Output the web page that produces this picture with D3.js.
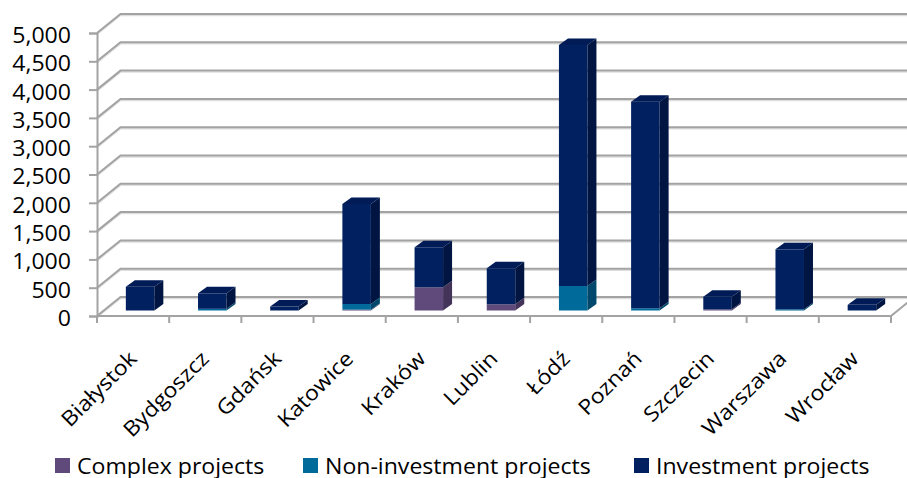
<!DOCTYPE html>
<html>
<head>
<meta charset="utf-8">
<script src="https://cdn.jsdelivr.net/npm/d3@7/dist/d3.min.js"></script>
<style>
  html, body { margin: 0; padding: 0; background: #fff; }
  svg { display: block; font-family: "Open Sans", "Noto Sans", sans-serif; }
</style>
</head>
<body>
<svg id="chart" width="907" height="478"></svg>
<script>
// Cities and project counts per type (stacked bottom → top)
const categories = ["Białystok", "Bydgoszcz", "Gdańsk", "Katowice", "Kraków", "Lublin", "Łódź", "Poznań", "Szczecin", "Warszawa", "Wrocław"];
const complexProjects       = [0, 0, 0, 15, 410, 110, 0, 0, 20, 0, 0];
const nonInvestmentProjects = [0, 30, 0, 100, 0, 0, 433, 40, 0, 20, 0];
const investmentProjects    = [420, 274, 70, 1767, 707, 636, 4258, 3650, 224, 1061, 100];
const seriesNames = ["Complex projects", "Non-investment projects", "Investment projects"];
const yTicks = [0, 500, 1000, 1500, 2000, 2500, 3000, 3500, 4000, 4500, 5000];

const rows = categories.map((c, i) => ({
  city: c,
  "Complex projects": complexProjects[i],
  "Non-investment projects": nonInvestmentProjects[i],
  "Investment projects": investmentProjects[i]
}));

// face colours: front, side, top
const palette = {
  "Complex projects":        { front: "#604a7b", side: "#44345a", top: "#6c5689" },
  "Non-investment projects": { front: "#006a9b", side: "#00496c", top: "#0a78a8" },
  "Investment projects":     { front: "#002060", side: "#001542", top: "#001b55" }
};

const svg = d3.select("#chart");
const FONT = 21, STRETCH = 1.1;   // text is drawn slightly widened

// 3D box geometry: front floor edge and depth of the walls
const left = 97, right = 891, floorY = 316, topY = 33;
const DX = 23.5, DY = -19;           // wall depth offset
const barOffX = 7, barOffY = -5.5;   // bars sit in the middle of the depth
const barDX = 9, barDY = -6.5;       // bar depth offset
const barW = 28.5;

const x = d3.scaleBand().domain(categories).range([left, right]).padding(0);
const y = d3.scaleLinear().domain([0, 5000]).range([floorY, topY]);

const gridColor = "#a3a3a3";
const grid = svg.append("g");

// gridlines on side wall and back wall
yTicks.forEach(t => {
  const yy = y(t);
  grid.append("path")
    .attr("d", `M${left},${yy + 1.5}L${left + DX},${yy + DY + 1.5}L907,${yy + DY + 1.5}`)
    .attr("fill", "none").attr("stroke", "#dedede").attr("stroke-width", 1.5);
  grid.append("path")
    .attr("d", `M${left},${yy}L${left + DX},${yy + DY}L907,${yy + DY}`)
    .attr("fill", "none").attr("stroke", gridColor).attr("stroke-width", 2);
});

// floor front edge and right edge
grid.append("path")
  .attr("d", `M${left},${floorY}L${right},${floorY}L${right + DX},${floorY + DY}`)
  .attr("fill", "none").attr("stroke", gridColor).attr("stroke-width", 2);

// value axis
const yAxis = d3.axisLeft(y).tickValues(yTicks).tickFormat(d3.format(",")).tickSize(8).tickPadding(18);
const yg = svg.append("g").attr("transform", `translate(${left},0)`).call(yAxis);
yg.select(".domain").attr("stroke", gridColor).attr("stroke-width", 2);
yg.selectAll(".tick line").attr("stroke", gridColor).attr("stroke-width", 2);
yg.selectAll(".tick text")
  .attr("fill", "#000").attr("font-size", FONT).attr("dy", "0.45em")
  .attr("font-family", "'Open Sans', sans-serif")
  .attr("x", -26 / STRETCH)
  .attr("transform", `scale(${STRETCH},1)`);

// category tick marks at band boundaries
const bounds = categories.map(c => x(c)).concat([right]);
svg.append("g").selectAll("line").data(bounds).join("line")
  .attr("x1", d => d).attr("x2", d => d)
  .attr("y1", floorY).attr("y2", floorY + 7)
  .attr("stroke", gridColor).attr("stroke-width", 2);

// stacked 3D columns
const stack = d3.stack().keys(seriesNames);
const layers = stack(rows);

const bars = svg.append("g");
categories.forEach((c, i) => {
  const x0 = x(c) + x.bandwidth() / 2 + barOffX - barW / 2;
  const x1 = x0 + barW;
  let topSeg = null;
  layers.forEach(layer => {
    const d = layer[i];
    if (d[1] - d[0] <= 0) return;
    const col = palette[layer.key];
    const yb = y(d[0]) + barOffY, yt = y(d[1]) + barOffY;
    bars.append("rect")
      .attr("x", x0).attr("y", yt).attr("width", barW).attr("height", yb - yt)
      .attr("fill", col.front);
    bars.append("path")
      .attr("d", `M${x1},${yb}L${x1 + barDX},${yb + barDY}L${x1 + barDX},${yt + barDY}L${x1},${yt}Z`)
      .attr("fill", col.side);
    topSeg = { yt, col };
  });
  if (topSeg) {
    const { yt, col } = topSeg;
    bars.append("path")
      .attr("d", `M${x0},${yt}L${x0 + barDX},${yt + barDY}L${x1 + barDX},${yt + barDY}L${x1},${yt}Z`)
      .attr("fill", col.top);
  }
});

// rotated category labels
svg.append("g").selectAll("text").data(categories).join("text")
  .attr("transform", d => `translate(${x(d) + x.bandwidth() / 2 + 5},360) rotate(-45) scale(${STRETCH},1)`)
  .attr("text-anchor", "end")
  .attr("font-size", FONT)
  .attr("fill", "#000")
  .text(d => d);

// legend
const legendX = [55, 303, 634];
const lg = svg.append("g").selectAll("g").data(seriesNames).join("g")
  .attr("transform", (d, i) => `translate(${legendX[i]},458)`);
lg.append("rect").attr("width", 15).attr("height", 15).attr("fill", d => palette[d].front);
lg.append("text")
  .attr("transform", `translate(22,15.5) scale(${STRETCH},1)`)
  .attr("font-size", FONT).attr("fill", "#000").text(d => d);
</script>
</body>
</html>
